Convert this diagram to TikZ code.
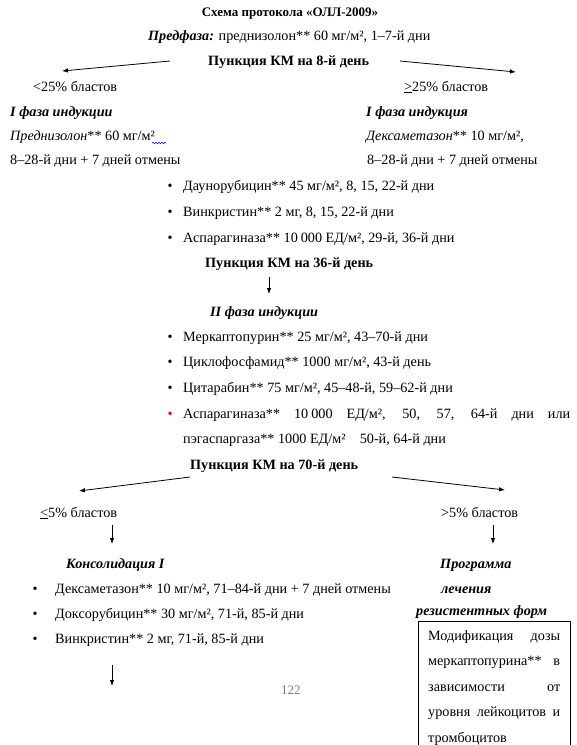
\documentclass[tikz,border=0pt]{standalone}
\usepackage{fontspec}
\setmainfont{Liberation Serif}
\usetikzlibrary{arrows.meta, positioning, decorations.pathmorphing}

\newcommand{\bodysize}{\fontsize{14.2}{17}\selectfont}
\tikzset{
  txt/.style={anchor=base west, inner sep=0pt, font=\bodysize},
  hd/.style={txt, font=\bodysize\bfseries},
  hdi/.style={txt, font=\bodysize\bfseries\itshape},
  bul/.style={anchor=base, inner sep=0pt, font=\bodysize},
  arr/.style={-{Latex[length=6pt,width=4.5pt]}, line width=0.8pt},
}

\begin{document}
\begin{tikzpicture}[x=1pt, y=-1pt, line join=round]
  \useasboundingbox (0,0) rectangle (577,745);
  % header
  \node[hd, anchor=base, font=\fontsize{13}{15}\selectfont\bfseries] (title) at (290,16) {Схема протокола «ОЛЛ-2009»};
  \node[txt] (pre) at (148,40) {\textbf{\textit{Предфаза:}} преднизолон** 60 мг/м², 1–7-й дни};
  \node[hd] (km8) at (208,65) {Пункция КМ на 8-й день};
  \coordinate (km8l) at (170,61);
  \coordinate (km8r) at (400,61);
  \coordinate (lo25) at (62,71);
  \coordinate (hi25) at (516,72);
  \draw[arr] (km8l) -- (lo25);
  \draw[arr] (km8r) -- (hi25);
  \node[txt] (bl1) at (33,91) {<25\% бластов};
  \node[txt] (bl2) at (404,91) {\underline{>}25\% бластов};

  % I phase, two columns
  \node[hdi] (ph1a) at (10,116) {I фаза индукции};
  \node[hdi] (ph1b) at (366,116) {I фаза индукция};
  \node[txt] (pred) at (10,140) {\textit{Преднизолон}** 60 мг/м²};
  \draw[blue, line width=0.5pt, decorate, decoration={snake, amplitude=0.8pt, segment length=3pt}] (pred.base east) ++(-3,3) -- ++(14,0);
  \node[txt] (dexa) at (366,140) {\textit{Дексаметазон}** 10 мг/м²,};
  \node[txt] (days1) at (10,164) {8–28-й дни + 7 дней отмены};
  \node[txt] (days2) at (367,164) {8–28-й дни + 7 дней отмены};
  \node[bul] (b1) at (170,190) {•};
  \node[txt] (dr1) at (183,190) {Даунорубицин** 45 мг/м², 8, 15, 22-й дни};
  \node[bul] (b2) at (170,216) {•};
  \node[txt] (dr2) at (183,216) {Винкристин** 2 мг, 8, 15, 22-й дни};
  \node[bul] (b3) at (170,242) {•};
  \node[txt] (dr3) at (183,242) {Аспарагиназа** 10\kern3pt000 ЕД/м², 29-й, 36-й дни};

  % II phase
  \node[hd] (km36) at (205,267) {Пункция КМ на 36-й день};
  \coordinate (km36d) at (269,277);
  \coordinate (ph2t) at (269,294);
  \draw[arr] (km36d) -- (ph2t);
  \node[hdi] (ph2) at (210,316) {II фаза индукции};
  \node[bul] (b4) at (170,341) {•};
  \node[txt] (dr4) at (183,341) {Меркаптопурин** 25 мг/м², 43–70-й дни};
  \node[bul] (b5) at (170,366) {•};
  \node[txt] (dr5) at (183,366) {Циклофосфамид** 1000 мг/м², 43-й день};
  \node[bul] (b6) at (170,392) {•};
  \node[txt] (dr6) at (183,392) {Цитарабин** 75 мг/м², 45–48-й, 59–62-й дни};
  \node[bul, red] (b7) at (170,418) {•};
  \node[txt] (dr7) at (183,418) {\makebox[387pt][s]{Аспарагиназа** 10\kern3pt000 ЕД/м², 50, 57, 64-й дни или}};
  \node[txt] (dr7b) at (183,443) {пэгаспаргаза** 1000 ЕД/м²\quad 50-й, 64-й дни};

  % day 70
  \node[hd] (km70) at (190,469) {Пункция КМ на 70-й день};
  \coordinate (km70l) at (190,477);
  \coordinate (km70r) at (392,477);
  \coordinate (lo5) at (79,491);
  \coordinate (hi5) at (505,490);
  \draw[arr] (km70l) -- (lo5);
  \draw[arr] (km70r) -- (hi5);
  \node[txt] (bl3) at (40,517) {\underline{<}5\% бластов};
  \node[txt] (bl4) at (441,517) {>5\% бластов};
  \coordinate (bl3d) at (112,525);
  \coordinate (cons) at (112,544);
  \coordinate (bl4d) at (493,525);
  \coordinate (prog) at (493,544);
  \draw[arr] (bl3d) -- (cons);
  \draw[arr] (bl4d) -- (prog);

  % consolidation
  \node[hdi] (con) at (66,568) {Консолидация I};
  \node[bul] (b8) at (35,593) {•};
  \node[txt] (dr8) at (55,593) {Дексаметазон** 10 мг/м², 71–84-й дни + 7 дней отмены};
  \node[bul] (b9) at (35,618) {•};
  \node[txt] (dr9) at (55,618) {Доксорубицин** 30 мг/м², 71-й, 85-й дни};
  \node[bul] (b10) at (35,643) {•};
  \node[txt] (dr10) at (55,643) {Винкристин** 2 мг, 71-й, 85-й дни};
  \coordinate (conend) at (112,665);
  \coordinate (conarr) at (112,686);
  \draw[arr] (conend) -- (conarr);
  \node[txt, text=gray, font=\fontsize{13}{15}\selectfont] (page) at (281,694) {122};

  % resistant forms
  \node[hdi] (pr1) at (440,568) {Программа};
  \node[hdi] (pr2) at (441,593) {лечения};
  \node[hdi] (pr3) at (416,615) {резистентных форм};
  \node[draw, line width=0.8pt, anchor=north west, minimum width=152pt, minimum height=150pt, inner sep=0pt] (box) at (418,621) {};
  \node[txt] (m1) at (428,640) {\makebox[132pt][s]{Модификация дозы}};
  \node[txt] (m2) at (428,665) {\makebox[132pt][s]{меркаптопурина** в}};
  \node[txt] (m3) at (428,691) {\makebox[132pt][s]{зависимости от}};
  \node[txt] (m4) at (428,716) {\makebox[132pt][s]{уровня лейкоцитов и}};
  \node[txt] (m5) at (428,742) {тромбоцитов};
\end{tikzpicture}
\end{document}
